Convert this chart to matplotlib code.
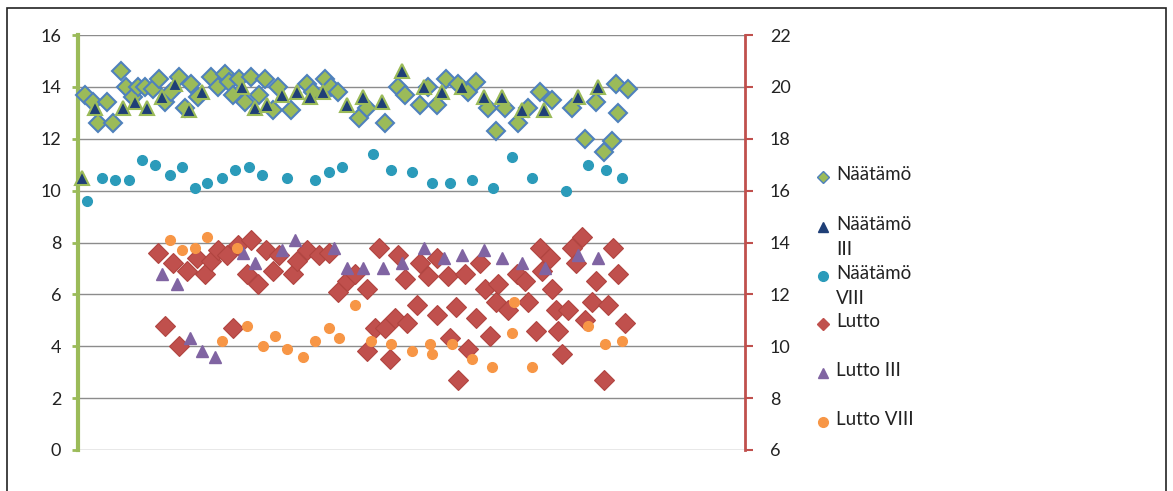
import matplotlib
matplotlib.use("Agg")
import matplotlib.pyplot as plt
from matplotlib.lines import Line2D
from matplotlib.patches import Rectangle

plt.rcParams['font.family'] = ['Lato', 'DejaVu Sans']

# Näätämö
naat_x = [0.5, 1.1, 1.5, 2.2, 2.6, 3.2, 3.6, 4.1, 4.5, 5.0, 5.6, 6.1, 6.5, 7.0, 7.6, 8.0,
          8.5, 9.0, 10.0, 10.5, 11.0, 11.3, 11.6, 12.1, 12.5, 13.0, 13.6, 14.0, 14.6, 15.0,
          16.0, 17.2, 17.6, 18.5, 19.0, 19.5, 21.1, 21.7, 23.0, 24.0, 24.5, 25.6, 26.2, 26.9,
          27.6, 28.5, 29.2, 29.8, 30.7, 31.3, 32.0, 33.0, 33.7, 34.6, 35.5, 37.0, 38.0, 38.8,
          39.4, 40.0, 40.3, 40.5, 41.2]
naat_y = [13.7, 13.4, 12.6, 13.4, 12.6, 14.6, 14.0, 13.6, 14.0, 14.0, 13.9, 14.3, 13.4, 13.8, 14.4, 13.2,
          14.1, 13.6, 14.4, 14.0, 14.5, 14.2, 13.7, 14.3, 13.4, 14.4, 13.7, 14.3, 13.1, 14.0,
          13.1, 14.1, 13.8, 14.3, 14.0, 13.8, 12.8, 13.2, 12.6, 14.0, 13.7, 13.3, 14.0, 13.3,
          14.3, 14.1, 13.8, 14.2, 13.2, 12.3, 13.2, 12.6, 13.2, 13.8, 13.5, 13.2, 12.0, 13.4,
          11.5, 11.9, 14.1, 13.0, 13.9]

# Näätämö III
naat3_x = [0.3, 1.3, 3.4, 4.3, 5.2, 6.3, 7.3, 8.3, 9.3, 12.3, 13.3, 14.2, 15.3, 16.4, 17.4,
           18.4, 20.2, 21.4, 22.8, 24.3, 25.9, 27.3, 28.8, 30.4, 31.8, 33.3, 34.9, 37.5, 39.0]
naat3_y = [10.5, 13.2, 13.2, 13.4, 13.2, 13.6, 14.1, 13.1, 13.8, 14.0, 13.2, 13.3, 13.7, 13.8, 13.6,
           13.8, 13.3, 13.6, 13.4, 14.6, 14.0, 13.8, 14.0, 13.6, 13.6, 13.1, 13.1, 13.6, 14.0]

# Näätämö VIII
naat8_x = [0.7, 1.8, 2.8, 3.8, 4.8, 5.8, 6.9, 7.8, 8.8, 9.7, 10.8, 11.8, 12.8, 13.8, 15.7, 17.8,
           18.8, 19.8, 22.1, 23.5, 25.0, 26.5, 27.9, 29.5, 31.1, 32.5, 34.0, 36.6, 38.2, 39.6, 40.8]
naat8_y = [9.6, 10.5, 10.4, 10.4, 11.2, 11.0, 10.6, 10.9, 10.1, 10.3, 10.5, 10.8, 10.9, 10.6, 10.5, 10.4,
           10.7, 10.9, 11.4, 10.8, 10.7, 10.3, 10.3, 10.4, 10.1, 11.3, 10.5, 10.0, 11.0, 10.8, 10.5]

# Lutto
lutto_x = [6.0, 6.5, 7.1, 7.6, 8.2, 8.9, 9.5, 10.0, 10.5, 11.2, 11.6, 12.0, 12.7, 13.0, 13.5, 14.1,
           14.6, 15.1, 16.1, 16.4, 17.2, 18.1, 18.8, 19.5, 20.2, 20.8, 21.7, 21.7, 22.3, 22.6,
           23.0, 23.4, 23.8, 24.0, 24.5, 24.7, 25.4, 25.6, 26.2, 26.9, 26.9, 27.7, 27.9, 28.3,
           28.5, 29.0, 29.2, 29.8, 30.1, 30.5, 30.9, 31.3, 31.5, 32.2, 32.9, 33.5, 33.7, 34.3,
           34.6, 34.8, 35.4, 35.5, 35.8, 36.0, 36.3, 36.7, 37.0, 37.3, 37.8, 38.0, 38.5, 38.8,
           39.4, 39.7, 40.1, 40.5, 41.0]
lutto_y = [7.6, 4.8, 7.2, 4.0, 6.9, 7.4, 6.8, 7.3, 7.7, 7.5, 4.7, 7.9, 6.8, 8.1, 6.4, 7.7,
           6.9, 7.5, 6.8, 7.3, 7.7, 7.5, 7.6, 6.1, 6.5, 6.8, 6.2, 3.8, 4.7, 7.8,
           4.7, 3.5, 5.1, 7.5, 6.6, 4.9, 5.6, 7.2, 6.7, 7.4, 5.2, 6.7, 4.3, 5.5,
           2.7, 6.8, 3.9, 5.1, 7.2, 6.2, 4.4, 5.7, 6.4, 5.4, 6.8, 6.5, 5.7, 4.6,
           7.8, 6.9, 7.4, 6.2, 5.4, 4.6, 3.7, 5.4, 7.8, 7.2, 8.2, 5.0, 5.7, 6.5,
           2.7, 5.6, 7.8, 6.8, 4.9]

# Lutto III
lutto3_x = [6.3, 7.4, 8.4, 9.3, 10.3, 12.4, 13.3, 15.3, 16.3, 19.2, 20.2, 21.4, 22.9, 24.3,
            25.9, 27.4, 28.8, 30.4, 31.8, 33.3, 35.0, 37.5, 39.0]
lutto3_y = [6.8, 6.4, 4.3, 3.8, 3.6, 7.6, 7.2, 7.7, 8.1, 7.8, 7.0, 7.0, 7.0, 7.2,
            7.8, 7.4, 7.5, 7.7, 7.4, 7.2, 7.0, 7.5, 7.4]

# Lutto VIII
lutto8_x = [6.9, 7.8, 8.8, 9.7, 10.8, 11.9, 12.7, 13.9, 14.8, 15.7, 16.9, 17.8, 18.8, 19.6,
            20.8, 22.0, 23.5, 25.0, 26.4, 26.5, 28.0, 29.5, 31.0, 32.5, 32.7, 34.0, 38.2, 39.5, 40.8]
lutto8_y = [8.1, 7.7, 7.8, 8.2, 4.2, 7.8, 4.8, 4.0, 4.4, 3.9, 3.6, 4.2, 4.7, 4.3,
            5.6, 4.2, 4.1, 3.8, 4.1, 3.7, 4.1, 3.5, 3.2, 4.5, 5.7, 3.2, 4.8, 4.1, 4.2]

green = '#9BBB59'
blue = '#4F81BD'
navy = '#1F3F77'
teal = '#2B9BBA'
red = '#C0504D'
purple = '#8064A2'
orange = '#F79646'

fig = plt.figure(figsize=(11.73, 4.91), dpi=100)
ax = fig.add_axes([78/1173, 41/491, 667/1173, 415/491])

kw = dict(linestyle='none', clip_on=False, zorder=3)
ax.plot(naat_x, naat_y, marker='D', ms=9.5, mfc=green, mec=blue, mew=1.5, **kw)
ax.plot(naat3_x, naat3_y, marker='^', ms=10, mfc=navy, mec=green, mew=1.5, **kw)
ax.plot(naat8_x, naat8_y, marker='o', ms=7, mfc=teal, mec=teal, **kw)
ax.plot(lutto_x, lutto_y, marker='D', ms=10, mfc=red, mec='#B04440', mew=0.8, **kw)
ax.plot(lutto3_x, lutto3_y, marker='^', ms=9, mfc=purple, mec=purple, **kw)
ax.plot(lutto8_x, lutto8_y, marker='o', ms=7, mfc=orange, mec=orange, **kw)

ax.set_xlim(0, 50)
ax.set_ylim(0, 16)
ax.set_yticks(range(0, 17, 2))
ax.grid(axis='y', color='#8C8C8C', linewidth=1)
ax.set_axisbelow(True)
for s in ['top', 'bottom', 'right']:
    ax.spines[s].set_visible(False)
ax.spines['left'].set_color(green)
ax.spines['left'].set_linewidth(3)
ax.tick_params(axis='y', colors=green, length=4, width=2, labelcolor='#222222', labelsize=13, pad=8)
ax.tick_params(axis='x', bottom=False, labelbottom=False)

ax2 = ax.twinx()
ax2.set_ylim(6, 22)
ax2.set_yticks(range(6, 23, 2))
for s in ['top', 'bottom', 'left']:
    ax2.spines[s].set_visible(False)
ax2.spines['right'].set_color(red)
ax2.spines['right'].set_linewidth(2)
ax2.tick_params(axis='y', colors=red, length=6, width=1.5, labelcolor='#222222', labelsize=13, pad=12)

# legend
entries = [
    ('D', green, blue, 'Näätämö', 177),
    ('^', navy, navy, 'Näätämö\nIII', 227),
    ('o', teal, teal, 'Näätämö\nVIII', 276),
    ('D', red, red, 'Lutto', 324),
    ('^', purple, purple, 'Lutto III', 373),
    ('o', orange, orange, 'Lutto VIII', 422),
]
for m, fc, ec, lab, py in entries:
    yf = 1 - py / 491
    fig.add_artist(Line2D([823/1173], [yf], marker=m, ms=7 if m != 'D' else 6,
                          mfc=fc, mec=ec, mew=1, linestyle='none'))
    fig.text(836/1173, yf, lab, fontsize=13.5, color='#222222', va='top',
             linespacing=1.55, transform=fig.transFigure).set_y(yf + 11/491)

# frame
fig.add_artist(Rectangle((7/1173, -0.02), 1159/1173, 1.02 - 8/491, transform=fig.transFigure,
                         fill=False, edgecolor='#222222', linewidth=1.2))

fig.savefig('out.png', dpi=100)
